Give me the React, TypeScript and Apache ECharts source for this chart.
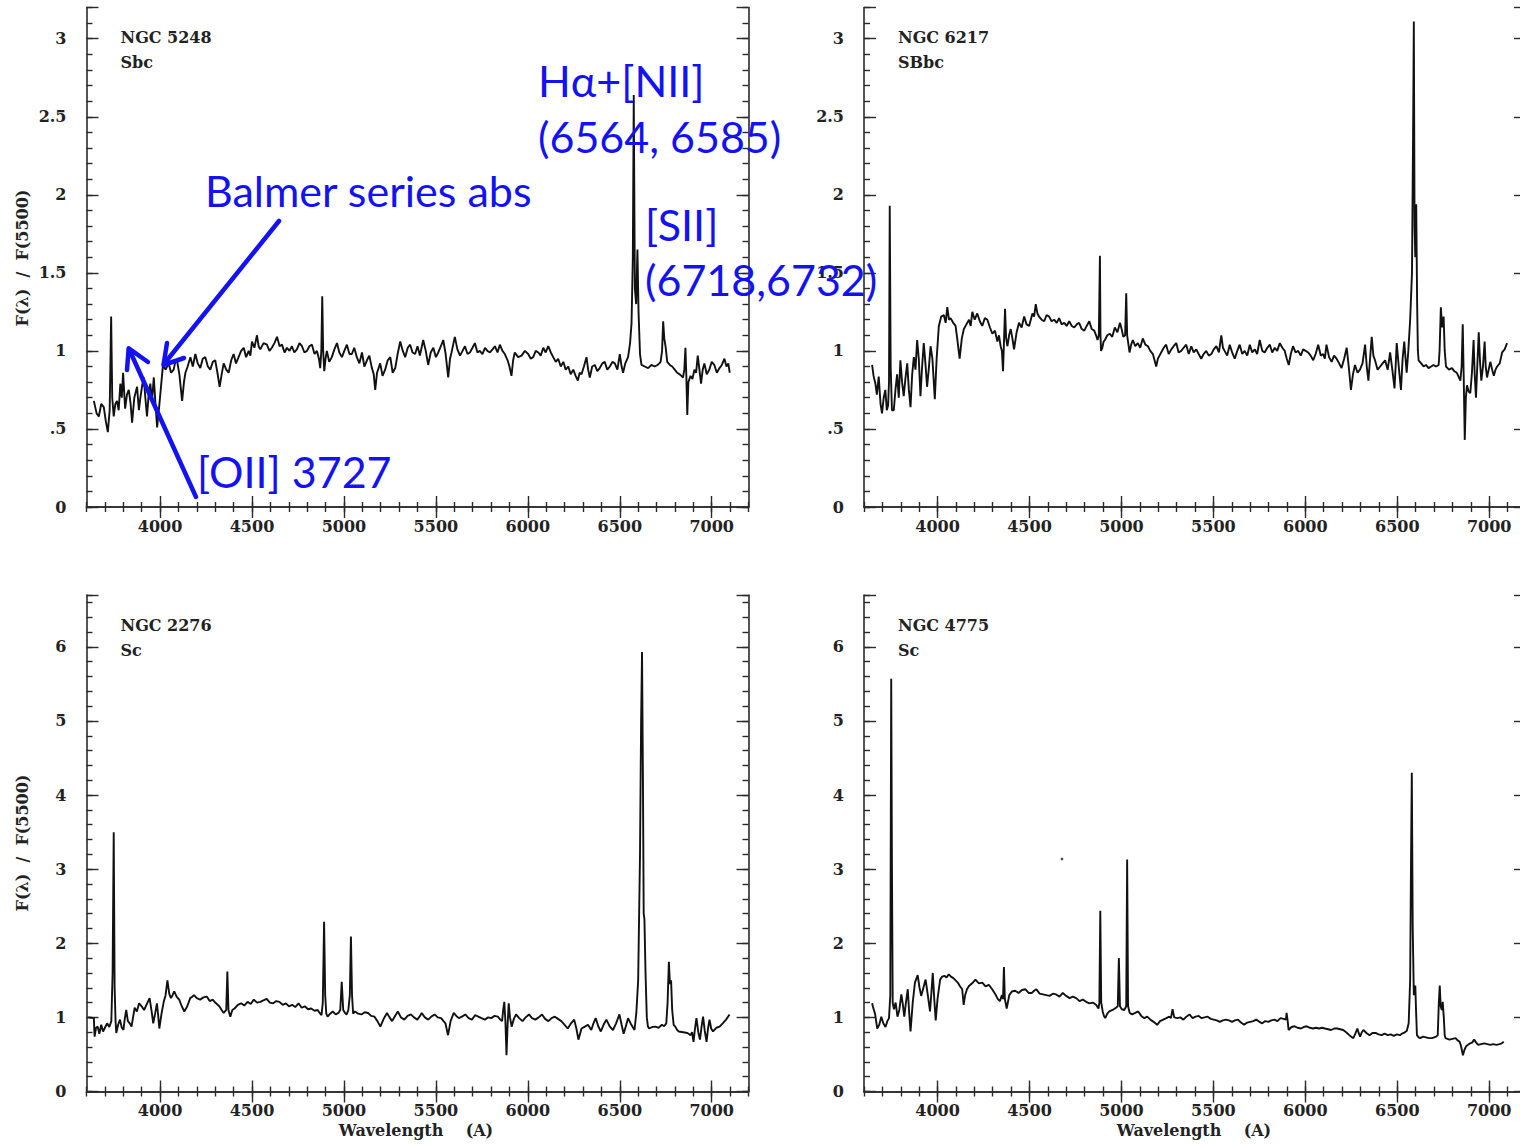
import React, { useEffect, useRef } from "react";
import * as echarts from "echarts";

// ---------- data (wavelength Å, F(λ)/F(5500)) ----------
const ngc5248: number[][] = [
  [3640,0.68],[3655,0.60],[3667,0.58],[3680,0.66],[3694,0.64],[3705,0.55],[3716,0.48],[3726,0.62],[3734,1.22],[3740,0.70],[3748,0.58],[3757,0.66],[3766,0.68],[3775,0.62],[3784,0.79],[3792,0.70],[3799,0.86],[3810,0.63],[3820,0.72],[3830,0.75],[3840,0.66],[3848,0.54],[3860,0.70],[3875,0.77],[3885,0.62],[3893,0.70],[3903,0.78],[3911,0.83],[3920,0.70],[3929,0.58],[3938,0.72],[3947,0.79],[3956,0.68],[3966,0.83],[3975,0.66],[3984,0.51],[3995,0.64],[4005,0.77],[4016,0.91],[4030,0.88],[4047,0.92],[4060,0.86],[4074,0.88],[4083,0.93],[4092,0.94],[4105,0.85],[4120,0.68],[4130,0.80],[4138,0.86],[4150,0.90],[4165,0.96],[4178,0.90],[4192,0.98],[4205,0.92],[4219,0.89],[4232,0.95],[4246,0.96],[4260,0.90],[4273,0.88],[4287,0.93],[4300,0.94],[4312,0.86],[4324,0.77],[4335,0.85],[4346,0.92],[4360,0.88],[4373,0.86],[4387,0.94],[4400,0.98],[4413,0.92],[4427,0.96],[4441,1.00],[4455,1.02],[4468,0.96],[4482,1.00],[4491,0.97],[4500,1.06],[4513,1.02],[4527,1.10],[4536,1.03],[4545,1.01],[4563,1.05],[4581,1.04],[4595,1.00],[4608,1.02],[4622,1.05],[4636,1.09],[4650,1.03],[4663,1.04],[4677,0.99],[4690,1.02],[4704,1.00],[4717,1.03],[4730,0.99],[4744,1.01],[4758,1.05],[4772,1.03],[4785,0.99],[4799,1.00],[4812,1.03],[4826,1.04],[4840,0.98],[4853,1.00],[4864,0.95],[4871,0.89],[4877,1.00],[4882,1.35],[4887,1.00],[4893,0.87],[4900,0.95],[4907,1.00],[4920,0.93],[4934,0.96],[4948,1.01],[4962,1.05],[4975,0.99],[4989,0.96],[5002,1.00],[5016,1.04],[5030,0.98],[5043,0.98],[5056,1.02],[5070,0.96],[5084,0.92],[5098,0.99],[5111,0.90],[5125,0.94],[5138,0.97],[5152,0.89],[5162,0.85],[5170,0.75],[5180,0.86],[5197,0.92],[5210,0.84],[5224,0.88],[5238,0.94],[5252,0.96],[5265,0.86],[5279,0.89],[5292,0.98],[5306,1.06],[5320,1.00],[5333,0.96],[5347,1.02],[5360,1.04],[5373,0.99],[5387,0.98],[5400,1.03],[5413,0.97],[5431,1.07],[5445,1.00],[5458,0.91],[5472,0.99],[5486,1.02],[5500,0.96],[5513,0.99],[5527,1.03],[5540,1.07],[5553,0.98],[5567,0.83],[5577,0.95],[5585,0.99],[5594,1.04],[5603,1.09],[5617,1.01],[5631,0.97],[5645,1.00],[5658,1.03],[5672,0.98],[5685,0.99],[5699,1.02],[5712,1.05],[5726,0.99],[5739,1.00],[5753,0.98],[5767,1.02],[5780,1.00],[5794,0.99],[5808,1.01],[5821,1.03],[5835,0.99],[5848,1.04],[5862,1.00],[5875,0.98],[5890,0.94],[5900,0.90],[5911,0.84],[5920,0.94],[5929,0.99],[5947,0.96],[5966,0.97],[5984,1.00],[6002,0.98],[6016,0.95],[6029,0.96],[6043,1.00],[6057,0.99],[6070,0.97],[6084,1.02],[6097,0.99],[6111,1.03],[6125,0.99],[6138,0.96],[6152,0.93],[6165,0.95],[6179,0.90],[6193,0.93],[6206,0.88],[6220,0.90],[6233,0.85],[6247,0.88],[6260,0.84],[6272,0.81],[6282,0.86],[6292,0.85],[6305,0.90],[6319,0.96],[6328,0.88],[6337,0.83],[6350,0.90],[6364,0.91],[6378,0.87],[6391,0.89],[6405,0.92],[6418,0.93],[6432,0.88],[6446,0.90],[6460,0.93],[6473,0.92],[6487,0.88],[6500,0.98],[6510,0.90],[6518,0.86],[6530,0.92],[6545,0.96],[6556,1.05],[6564,1.18],[6571,1.60],[6576,2.64],[6582,1.40],[6589,1.30],[6596,1.65],[6602,1.25],[6610,0.98],[6618,0.91],[6636,0.90],[6654,0.89],[6672,0.91],[6690,0.90],[6705,0.91],[6715,0.92],[6722,0.93],[6730,1.00],[6736,1.19],[6742,1.08],[6750,1.02],[6758,0.93],[6772,0.91],[6785,0.90],[6799,0.88],[6812,0.86],[6826,0.85],[6835,0.84],[6844,0.83],[6851,0.88],[6857,1.02],[6862,0.84],[6867,0.59],[6873,0.80],[6885,0.84],[6895,0.82],[6906,0.88],[6915,0.86],[6924,0.97],[6933,0.88],[6942,0.79],[6951,0.88],[6960,0.92],[6973,0.85],[6987,0.88],[7000,0.93],[7014,0.91],[7028,0.86],[7042,0.89],[7055,0.91],[7069,0.95],[7080,0.90],[7090,0.92],[7098,0.86]
];

const ngc6217: number[][] = [
  [3644,0.91],[3652,0.84],[3662,0.79],[3670,0.72],[3680,0.835],[3690,0.66],[3698,0.60],[3707,0.70],[3716,0.75],[3724,0.62],[3731,0.65],[3736,0.80],[3740,1.93],[3745,0.90],[3752,0.62],[3762,0.62],[3771,0.75],[3780,0.85],[3789,0.70],[3798,0.94],[3807,0.80],[3816,0.71],[3825,0.82],[3835,0.92],[3844,0.75],[3853,0.64],[3862,0.85],[3871,0.96],[3880,0.88],[3889,1.07],[3898,0.95],[3907,0.71],[3916,0.90],[3925,1.05],[3934,0.92],[3943,0.77],[3952,0.88],[3962,1.03],[3972,0.95],[3985,0.69],[3995,0.95],[4007,1.16],[4020,1.22],[4034,1.23],[4044,1.18],[4053,1.28],[4062,1.20],[4071,1.21],[4085,1.18],[4098,1.16],[4110,1.05],[4120,0.95],[4132,1.08],[4143,1.14],[4157,1.17],[4171,1.20],[4180,1.16],[4189,1.25],[4202,1.20],[4216,1.24],[4230,1.19],[4243,1.16],[4257,1.21],[4271,1.20],[4285,1.15],[4298,1.11],[4312,1.13],[4325,1.06],[4334,1.10],[4343,1.03],[4350,1.00],[4356,0.87],[4361,1.05],[4367,1.27],[4373,1.08],[4380,1.03],[4389,1.10],[4398,1.14],[4407,1.08],[4416,1.01],[4430,1.12],[4443,1.18],[4457,1.15],[4471,1.22],[4484,1.17],[4498,1.16],[4507,1.20],[4516,1.24],[4525,1.22],[4534,1.30],[4543,1.24],[4552,1.22],[4566,1.20],[4580,1.19],[4593,1.23],[4607,1.22],[4620,1.19],[4634,1.20],[4648,1.18],[4661,1.21],[4675,1.17],[4689,1.18],[4702,1.16],[4716,1.19],[4730,1.16],[4743,1.15],[4757,1.17],[4770,1.18],[4784,1.14],[4798,1.13],[4811,1.16],[4825,1.19],[4838,1.14],[4852,1.13],[4862,1.10],[4870,1.07],[4877,1.10],[4883,1.61],[4886,1.10],[4889,1.00],[4896,1.02],[4903,1.06],[4910,1.07],[4923,1.10],[4937,1.11],[4950,1.09],[4964,1.15],[4978,1.12],[4992,1.18],[5001,1.14],[5010,1.09],[5020,1.10],[5026,1.37],[5031,1.10],[5037,1.05],[5044,0.99],[5053,1.04],[5062,1.07],[5075,1.03],[5089,1.05],[5102,1.02],[5116,1.08],[5130,1.04],[5144,1.03],[5157,1.00],[5171,0.98],[5180,0.94],[5189,0.90],[5198,0.95],[5207,0.97],[5216,0.99],[5230,1.02],[5243,1.04],[5257,0.98],[5271,1.01],[5284,1.03],[5298,1.05],[5311,0.99],[5325,1.00],[5338,1.02],[5352,1.04],[5366,0.98],[5380,1.03],[5393,0.99],[5407,1.01],[5420,0.98],[5434,0.95],[5447,0.98],[5461,1.00],[5475,0.97],[5489,0.98],[5502,1.01],[5516,1.03],[5530,0.99],[5543,1.10],[5552,1.02],[5561,1.00],[5575,0.97],[5589,1.04],[5602,0.99],[5616,0.95],[5630,1.00],[5643,1.04],[5657,0.98],[5670,1.00],[5684,0.97],[5698,1.04],[5711,0.99],[5725,1.01],[5738,0.98],[5752,1.07],[5766,1.00],[5779,0.99],[5793,1.02],[5807,1.04],[5820,0.99],[5834,1.02],[5847,1.00],[5861,1.05],[5875,1.02],[5888,1.00],[5899,0.95],[5910,0.91],[5921,0.98],[5933,1.03],[5947,0.99],[5961,1.00],[5975,0.97],[5988,1.01],[6002,1.00],[6015,0.99],[6029,0.97],[6043,0.94],[6056,0.98],[6070,1.04],[6084,0.97],[6097,0.98],[6106,0.95],[6115,1.04],[6129,0.96],[6143,0.93],[6156,0.97],[6170,0.95],[6184,0.92],[6197,0.89],[6211,0.95],[6225,1.02],[6236,0.90],[6248,0.75],[6259,0.85],[6270,0.91],[6284,0.86],[6297,0.88],[6311,0.92],[6325,1.04],[6334,0.90],[6343,0.81],[6352,0.95],[6361,1.09],[6370,0.97],[6379,0.94],[6393,0.88],[6407,0.90],[6420,0.92],[6434,0.94],[6448,0.88],[6461,0.99],[6473,0.88],[6485,0.76],[6491,0.90],[6497,1.05],[6508,0.90],[6520,0.75],[6529,0.95],[6538,1.06],[6545,0.95],[6551,0.86],[6560,1.00],[6570,1.20],[6580,1.50],[6586,2.40],[6590,3.11],[6594,1.80],[6598,1.60],[6603,1.94],[6608,1.30],[6612,1.00],[6616,0.94],[6630,0.92],[6643,0.90],[6656,0.91],[6670,0.89],[6684,0.90],[6697,0.91],[6711,0.90],[6725,0.91],[6730,1.00],[6737,1.28],[6744,1.15],[6752,1.22],[6758,1.00],[6765,0.90],[6781,0.88],[6797,0.89],[6810,0.87],[6824,0.86],[6835,0.83],[6843,0.81],[6850,0.90],[6856,1.17],[6861,0.85],[6867,0.43],[6873,0.70],[6879,0.78],[6888,0.74],[6897,0.73],[6906,0.86],[6915,1.07],[6921,0.85],[6928,0.70],[6935,0.90],[6943,1.12],[6950,0.93],[6957,0.81],[6966,0.90],[6975,1.06],[6981,0.90],[6988,0.83],[6997,0.88],[7006,0.93],[7016,0.88],[7025,0.84],[7034,0.88],[7043,0.90],[7057,0.92],[7070,0.99],[7084,1.01],[7097,1.05]
];

const ngc2276: number[][] = [
  [3610,1.00],[3640,0.99],[3644,0.74],[3652,0.86],[3661,0.875],[3670,0.78],[3680,0.90],[3690,0.81],[3700,0.86],[3712,0.92],[3724,0.87],[3735,0.95],[3742,1.60],[3748,3.50],[3753,1.40],[3758,0.95],[3762,0.79],[3772,0.90],[3782,0.97],[3792,0.86],[3801,0.83],[3808,0.98],[3816,1.10],[3825,0.95],[3835,0.92],[3845,0.875],[3853,1.00],[3862,1.13],[3874,1.08],[3886,1.19],[3900,1.15],[3913,1.10],[3928,1.18],[3943,1.26],[3953,1.10],[3963,0.92],[3973,1.05],[3983,1.19],[3990,1.02],[3996,0.85],[4008,1.05],[4020,1.21],[4030,1.30],[4040,1.50],[4050,1.32],[4059,1.26],[4068,1.30],[4077,1.35],[4090,1.28],[4104,1.24],[4118,1.15],[4132,1.08],[4148,1.15],[4164,1.26],[4175,1.28],[4185,1.30],[4200,1.26],[4218,1.24],[4236,1.27],[4255,1.28],[4270,1.22],[4286,1.24],[4300,1.20],[4322,1.15],[4335,1.10],[4346,1.06],[4360,1.10],[4366,1.62],[4372,1.10],[4382,1.01],[4393,1.10],[4405,1.12],[4423,1.17],[4441,1.19],[4458,1.16],[4476,1.21],[4493,1.18],[4510,1.24],[4527,1.20],[4545,1.21],[4562,1.23],[4580,1.25],[4597,1.20],[4615,1.19],[4632,1.22],[4649,1.21],[4667,1.17],[4684,1.19],[4701,1.15],[4718,1.17],[4735,1.14],[4753,1.19],[4770,1.13],[4787,1.15],[4805,1.11],[4822,1.12],[4840,1.09],[4857,1.10],[4868,1.06],[4878,1.03],[4885,1.20],[4892,2.29],[4898,1.30],[4904,1.05],[4911,1.01],[4925,1.05],[4939,1.08],[4955,1.04],[4970,1.06],[4980,1.10],[4988,1.48],[4996,1.10],[5006,1.06],[5015,1.04],[5024,1.10],[5032,1.30],[5038,2.09],[5044,1.30],[5050,1.05],[5060,1.08],[5077,1.05],[5095,1.04],[5113,1.07],[5131,1.06],[5148,1.02],[5166,1.01],[5182,0.95],[5198,0.875],[5216,0.98],[5234,1.06],[5248,1.00],[5262,0.95],[5278,1.02],[5293,1.08],[5310,1.00],[5328,0.97],[5346,1.02],[5364,1.04],[5381,1.00],[5399,0.97],[5411,1.01],[5423,1.06],[5440,1.00],[5458,0.97],[5475,1.01],[5493,1.04],[5510,1.00],[5528,0.99],[5552,0.92],[5566,0.76],[5580,0.95],[5597,1.06],[5611,1.02],[5625,0.99],[5642,1.01],[5660,1.04],[5678,0.99],[5696,0.97],[5713,1.03],[5731,1.01],[5748,0.99],[5766,0.97],[5784,1.00],[5801,0.99],[5819,1.02],[5837,1.01],[5850,0.97],[5860,0.95],[5866,1.10],[5872,1.21],[5878,0.95],[5884,0.49],[5890,0.90],[5896,1.19],[5903,1.00],[5912,0.875],[5924,0.98],[5936,1.04],[5953,0.99],[5971,0.95],[5988,1.00],[6006,1.04],[6023,0.99],[6041,0.97],[6059,1.00],[6077,1.04],[6094,0.98],[6112,0.95],[6129,0.99],[6147,1.01],[6164,0.98],[6182,0.95],[6200,0.90],[6217,0.85],[6235,0.92],[6252,0.97],[6264,0.85],[6275,0.70],[6292,0.85],[6310,0.875],[6327,0.90],[6345,0.83],[6357,0.92],[6369,0.99],[6383,0.88],[6397,0.81],[6412,0.90],[6427,0.97],[6445,0.88],[6463,0.83],[6480,0.92],[6498,1.04],[6510,0.90],[6521,0.78],[6533,0.88],[6545,0.99],[6563,0.90],[6580,0.83],[6590,1.06],[6600,1.50],[6610,3.20],[6616,5.00],[6621,5.93],[6626,4.20],[6630,2.40],[6634,2.33],[6640,1.60],[6647,1.00],[6653,0.88],[6659,0.85],[6676,0.87],[6694,0.875],[6711,0.86],[6729,0.90],[6741,0.88],[6753,0.92],[6760,1.20],[6767,1.75],[6773,1.45],[6779,1.50],[6785,1.10],[6793,0.90],[6802,0.875],[6812,0.83],[6821,0.81],[6845,0.80],[6868,0.79],[6885,0.76],[6893,0.80],[6901,0.67],[6909,0.85],[6917,0.99],[6927,0.80],[6936,0.70],[6945,0.88],[6953,1.01],[6962,0.82],[6972,0.67],[6980,0.85],[6988,0.97],[6997,0.85],[7007,0.81],[7025,0.86],[7043,0.875],[7060,0.92],[7078,0.97],[7097,1.04]
];

const ngc4775: number[][] = [
  [3644,1.19],[3649,1.14],[3660,1.05],[3672,0.85],[3683,0.90],[3694,1.01],[3705,0.92],[3717,0.87],[3727,0.95],[3736,0.99],[3743,1.30],[3748,5.57],[3752,3.00],[3756,1.20],[3763,1.11],[3772,1.20],[3782,1.01],[3792,1.10],[3803,1.31],[3811,1.18],[3819,1.01],[3828,1.20],[3838,1.38],[3846,1.05],[3853,0.81],[3865,1.20],[3877,1.47],[3892,1.57],[3902,1.40],[3911,1.29],[3923,1.40],[3935,1.51],[3947,1.30],[3959,1.08],[3967,1.35],[3974,1.60],[3982,1.25],[3990,0.96],[4000,1.25],[4014,1.51],[4025,1.55],[4037,1.56],[4049,1.54],[4061,1.58],[4073,1.55],[4086,1.53],[4098,1.50],[4110,1.47],[4122,1.42],[4134,1.38],[4142,1.17],[4150,1.30],[4160,1.38],[4170,1.42],[4188,1.46],[4206,1.51],[4225,1.46],[4243,1.47],[4261,1.42],[4279,1.44],[4297,1.38],[4315,1.31],[4327,1.25],[4339,1.22],[4350,1.30],[4356,1.25],[4361,1.68],[4366,1.25],[4376,1.12],[4390,1.30],[4404,1.35],[4422,1.36],[4441,1.33],[4459,1.37],[4477,1.38],[4495,1.33],[4513,1.33],[4525,1.36],[4537,1.38],[4555,1.32],[4573,1.31],[4591,1.30],[4609,1.29],[4627,1.32],[4645,1.31],[4663,1.28],[4681,1.33],[4699,1.29],[4718,1.26],[4736,1.28],[4754,1.26],[4772,1.22],[4790,1.24],[4808,1.21],[4826,1.19],[4844,1.20],[4862,1.17],[4875,1.12],[4880,1.20],[4885,2.44],[4890,1.20],[4898,1.08],[4905,1.02],[4912,0.99],[4923,1.05],[4934,1.08],[4952,1.10],[4970,1.13],[4980,1.15],[4986,1.80],[4992,1.15],[5002,1.11],[5015,1.10],[5026,1.15],[5031,3.13],[5036,1.15],[5045,1.06],[5058,1.04],[5075,1.06],[5091,1.08],[5108,1.02],[5124,0.99],[5140,1.01],[5157,0.97],[5175,0.94],[5194,0.90],[5210,0.95],[5227,0.97],[5244,0.99],[5260,1.01],[5269,0.99],[5278,1.11],[5287,1.00],[5304,0.99],[5320,1.00],[5337,0.97],[5353,1.01],[5370,1.04],[5387,0.99],[5403,1.01],[5420,1.02],[5436,0.99],[5452,1.00],[5469,1.01],[5486,0.98],[5502,0.97],[5518,0.96],[5535,0.94],[5551,0.96],[5568,0.97],[5585,0.96],[5601,0.94],[5617,0.96],[5634,0.97],[5650,0.93],[5667,0.90],[5684,0.93],[5700,0.94],[5717,0.95],[5733,0.97],[5750,0.94],[5766,0.92],[5782,0.95],[5799,0.94],[5815,0.96],[5832,0.97],[5848,0.95],[5865,0.99],[5882,0.98],[5895,0.97],[5898,1.06],[5904,0.95],[5909,0.83],[5925,0.87],[5942,0.88],[5958,0.86],[5975,0.85],[5991,0.87],[6008,0.88],[6025,0.86],[6041,0.85],[6058,0.86],[6074,0.85],[6091,0.86],[6107,0.85],[6124,0.84],[6140,0.83],[6157,0.85],[6173,0.85],[6190,0.84],[6206,0.83],[6222,0.80],[6239,0.76],[6250,0.74],[6261,0.72],[6272,0.78],[6283,0.85],[6290,0.79],[6298,0.74],[6307,0.80],[6316,0.83],[6332,0.79],[6349,0.76],[6365,0.79],[6382,0.79],[6398,0.77],[6415,0.76],[6431,0.78],[6448,0.76],[6464,0.77],[6481,0.75],[6497,0.77],[6514,0.76],[6525,0.78],[6536,0.79],[6552,0.82],[6562,0.92],[6570,1.50],[6575,3.20],[6579,4.30],[6584,2.20],[6590,1.30],[6595,1.40],[6598,1.43],[6602,1.10],[6607,0.76],[6616,0.73],[6625,0.72],[6640,0.74],[6656,0.73],[6672,0.72],[6689,0.72],[6700,0.73],[6712,0.74],[6720,0.76],[6726,1.20],[6731,1.43],[6736,1.15],[6742,1.10],[6747,1.21],[6753,1.00],[6758,0.76],[6762,0.72],[6773,0.71],[6784,0.70],[6800,0.71],[6817,0.72],[6828,0.69],[6839,0.67],[6846,0.62],[6852,0.55],[6857,0.49],[6865,0.56],[6874,0.61],[6885,0.63],[6896,0.65],[6907,0.66],[6918,0.70],[6929,0.66],[6940,0.63],[6956,0.64],[6973,0.65],[6990,0.64],[7006,0.63],[7022,0.64],[7039,0.63],[7056,0.64],[7068,0.65],[7079,0.67]
];

const xTickValues = [4000, 4500, 5000, 5500, 6000, 6500, 7000];
const galaxyNames = ["NGC 5248", "NGC 6217", "NGC 2276", "NGC 4775"];
const galaxyTypes = ["Sbc", "SBbc", "Sc", "Sc"];
const yAxisTitle = "F(λ)  /  F(5500)";
const xAxisTitle = "Wavelength    (A)";

const annotations = [
  { text: "Hα+[NII]", x: 538, y: 80 },
  { text: "(6564, 6585)", x: 538, y: 136 },
  { text: "Balmer series abs", x: 205, y: 190 },
  { text: "[SII]", x: 645, y: 224 },
  { text: "(6718,6732)", x: 645, y: 279 },
  { text: "[OII] 3727", x: 197, y: 471 },
];

// ---------- layout ----------
const panels = [
  { data: ngc5248, left: 86.5, top: 7.5, width: 662, height: 499.5, yMax: 3.2, major: 0.5, minor: 0.1, lastLabel: 3 },
  { data: ngc6217, left: 864, top: 7.5, width: 662, height: 499.5, yMax: 3.2, major: 0.5, minor: 0.1, lastLabel: 3 },
  { data: ngc2276, left: 86.5, top: 595, width: 662, height: 496.5, yMax: 6.7, major: 1, minor: 0.2, lastLabel: 6 },
  { data: ngc4775, left: 864, top: 595, width: 662, height: 496.5, yMax: 6.7, major: 1, minor: 0.2, lastLabel: 6 },
];

const FRAME = "#2a2a2a";
const TICKFONT = "DejaVu Serif";
const BLUE = "#1212f2";

function buildOption() {
  const grid: any[] = [];
  const xAxis: any[] = [];
  const yAxis: any[] = [];
  const series: any[] = [];
  panels.forEach((p, i) => {
    grid.push({ left: p.left, top: p.top, width: p.width, height: p.height, containLabel: false });
    const line = { show: true, lineStyle: { color: FRAME, width: 1.6 } };
    const noLine = { show: false };
    const xBase = { type: "value", gridIndex: i, min: 3600, max: 7200, splitLine: { show: false } };
    // bottom major
    xAxis.push({
      ...xBase, position: "bottom", axisLine: line,
      axisTick: { show: true, inside: true, length: 11, customValues: xTickValues, lineStyle: { color: FRAME, width: 1.4 } },
      axisLabel: { show: true, customValues: xTickValues, margin: 11, formatter: (v: number) => String(v), fontFamily: TICKFONT, fontSize: 16, fontWeight: "bold", color: "#222" },
    });
    // bottom minor
    xAxis.push({
      ...xBase, position: "bottom", interval: 100, axisLine: noLine,
      axisTick: { show: true, inside: true, length: 5, lineStyle: { color: FRAME, width: 1.4 } },
      axisLabel: { show: false },
    });
    // top major
    xAxis.push({
      ...xBase, position: "top", axisLine: line,
      axisTick: { show: true, inside: true, length: 11, customValues: xTickValues, lineStyle: { color: FRAME, width: 1.4 } },
      axisLabel: { show: false, customValues: xTickValues },
    });
    // top minor
    xAxis.push({
      ...xBase, position: "top", interval: 100, axisLine: noLine,
      axisTick: { show: true, inside: true, length: 5, lineStyle: { color: FRAME, width: 1.4 } },
      axisLabel: { show: false },
    });
    const yBase = { type: "value", gridIndex: i, min: 0, max: p.yMax, splitLine: { show: false } };
    const fmt = (v: number) => {
      const k = Math.round(v / p.major);
      if (Math.abs(v - k * p.major) > 1e-6 || v > p.lastLabel + 1e-6) return "";
      if (Math.abs(v - 0.5) < 1e-6) return ".5";
      return String(Math.round(v * 10) / 10);
    };
    yAxis.push({
      ...yBase, position: "left", interval: p.major, axisLine: line,
      axisTick: { show: true, inside: true, length: 12, lineStyle: { color: FRAME, width: 1.4 } },
      axisLabel: { show: true, margin: 20, formatter: fmt, fontFamily: TICKFONT, fontSize: 16, fontWeight: "bold", color: "#222" },
    });
    yAxis.push({
      ...yBase, position: "left", interval: p.minor, axisLine: noLine,
      axisTick: { show: true, inside: true, length: 6, lineStyle: { color: FRAME, width: 1.4 } },
      axisLabel: { show: false },
    });
    yAxis.push({
      ...yBase, position: "right", interval: p.major, axisLine: line,
      axisTick: { show: true, inside: true, length: 12, lineStyle: { color: FRAME, width: 1.4 } },
      axisLabel: { show: false },
    });
    yAxis.push({
      ...yBase, position: "right", interval: p.minor, axisLine: noLine,
      axisTick: { show: true, inside: true, length: 6, lineStyle: { color: FRAME, width: 1.4 } },
      axisLabel: { show: false },
    });
    series.push({
      type: "line", xAxisIndex: i * 4, yAxisIndex: i * 4, data: p.data,
      showSymbol: false, symbol: "none", clip: true, silent: true,
      lineStyle: { color: "#111", width: 1.9 },
    });
  });

  const graphic: any[] = [];
  panels.forEach((p, i) => {
    graphic.push({
      type: "text", x: p.left + 34, y: p.top + 30,
      style: { text: galaxyNames[i], fontFamily: TICKFONT, fontSize: 16, fontWeight: "bold", fill: "#222", align: "left", verticalAlign: "middle" },
    });
    graphic.push({
      type: "text", x: p.left + 34, y: p.top + 55,
      style: { text: galaxyTypes[i], fontFamily: TICKFONT, fontSize: 16, fontWeight: "bold", fill: "#222", align: "left", verticalAlign: "middle" },
    });
  });
  // y axis titles (left panels)
  [258, 843].forEach((cy) => {
    graphic.push({
      type: "text", x: 22, y: cy, rotation: Math.PI / 2,
      style: { text: yAxisTitle, fontFamily: TICKFONT, fontSize: 16, fontWeight: "bold", fill: "#222", align: "center", verticalAlign: "middle" },
    });
  });
  // x axis titles (bottom panels)
  [416, 1194].forEach((cx) => {
    graphic.push({
      type: "text", x: cx, y: 1130,
      style: { text: xAxisTitle, fontFamily: TICKFONT, fontSize: 16, fontWeight: "bold", fill: "#222", align: "center", verticalAlign: "middle" },
    });
  });
  // speck in lower-right panel
  graphic.push({ type: "circle", shape: { cx: 1062, cy: 859, r: 1.3 }, style: { fill: "#444" } });

  // blue annotations
  annotations.forEach((a) => {
    graphic.push({
      type: "text", x: a.x, y: a.y, z: 100,
      style: { text: a.text, fontFamily: "Lato, 'Noto Sans', sans-serif", fontSize: 43, fill: BLUE, align: "left", verticalAlign: "middle" },
    });
  });
  const arrowStyle = { stroke: BLUE, lineWidth: 4.5, lineCap: "round", lineJoin: "round", fill: null };
  graphic.push({ type: "line", z: 100, shape: { x1: 279, y1: 221, x2: 164, y2: 364 }, style: arrowStyle });
  graphic.push({ type: "polyline", z: 100, shape: { points: [[167, 343], [163.5, 365], [184, 358]] }, style: arrowStyle });
  graphic.push({ type: "line", z: 100, shape: { x1: 196, y1: 497, x2: 129, y2: 349 }, style: arrowStyle });
  graphic.push({ type: "polyline", z: 100, shape: { points: [[127, 370], [128.7, 348.3], [148, 362]] }, style: arrowStyle });

  return {
    animation: false,
    backgroundColor: "#ffffff",
    grid, xAxis, yAxis, series, graphic,
  };
}

export default function App() {
  const ref = useRef<HTMLDivElement>(null);
  useEffect(() => {
    if (!ref.current) return;
    const chart = echarts.init(ref.current, undefined, { renderer: "svg" });
    chart.setOption(buildOption() as any);
    return () => chart.dispose();
  }, []);
  return (
    <div
      ref={ref}
      style={{ position: "fixed", left: 0, top: 0, width: 1530, height: 1145, background: "#fff" }}
    />
  );
}
